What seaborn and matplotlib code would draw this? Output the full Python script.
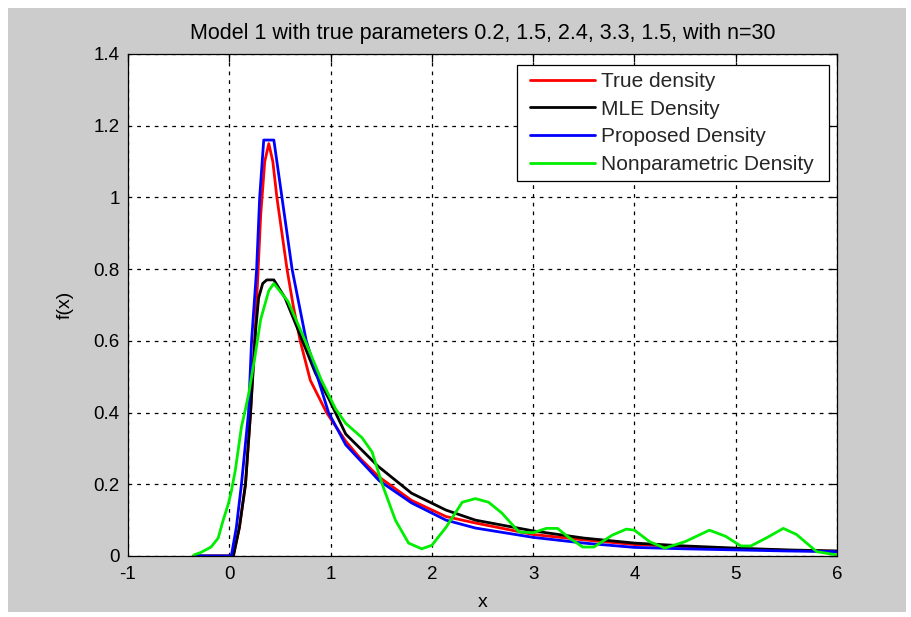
import numpy as np
import pandas as pd
import matplotlib
matplotlib.use("Agg")
import matplotlib.pyplot as plt
import seaborn as sns
from matplotlib.patches import Rectangle
from matplotlib.lines import Line2D

# ---------------- data ----------------
title = "Model 1 with true parameters 0.2, 1.5, 2.4, 3.3, 1.5, with n=30"
series_names = ["True density", "MLE Density", "Proposed Density", "Nonparametric Density"]
series_colors = ["#ff0000", "#000000", "#0000ff", "#00ee00"]

true_x = [-0.35, 0.04, 0.10, 0.16, 0.21, 0.26, 0.31, 0.35, 0.39, 0.43, 0.47, 0.52,
          0.57, 0.63, 0.70, 0.80, 0.96, 1.15, 1.30, 1.48, 1.80, 2.14, 2.43, 3.0,
          3.5, 4.0, 4.5, 5.0, 5.5, 6.0]
true_y = [0.0, 0.0, 0.08, 0.20, 0.40, 0.65, 0.95, 1.10, 1.15, 1.10, 1.00, 0.90,
          0.80, 0.70, 0.60, 0.49, 0.40, 0.32, 0.27, 0.22, 0.155, 0.11, 0.092, 0.06,
          0.045, 0.032, 0.026, 0.020, 0.016, 0.013]

mle_x = [-0.35, 0.04, 0.10, 0.16, 0.21, 0.26, 0.29, 0.33, 0.37, 0.44, 0.55, 0.68,
         0.85, 0.98, 1.15, 1.47, 1.80, 2.14, 2.43, 3.0, 3.5, 4.0, 4.5, 5.0, 5.5, 6.0]
mle_y = [0.0, 0.0, 0.08, 0.20, 0.40, 0.63, 0.72, 0.76, 0.77, 0.77, 0.72, 0.63,
         0.51, 0.44, 0.34, 0.25, 0.175, 0.128, 0.10, 0.07, 0.05, 0.036, 0.028,
         0.022, 0.017, 0.014]

prop_x = [-0.35, 0.02, 0.07, 0.12, 0.19, 0.22, 0.27, 0.30, 0.34, 0.44, 0.47, 0.52,
          0.62, 0.76, 0.98, 1.15, 1.48, 1.80, 2.14, 2.43, 3.0, 3.5, 4.0, 4.5, 5.0,
          5.5, 6.0]
prop_y = [0.0, 0.0, 0.08, 0.20, 0.40, 0.60, 0.80, 1.00, 1.16, 1.16, 1.10, 1.00,
          0.80, 0.60, 0.40, 0.31, 0.21, 0.148, 0.10, 0.078, 0.052, 0.036, 0.024,
          0.020, 0.017, 0.014, 0.012]

nonpar_x = [-0.35, -0.28, -0.18, -0.11, -0.06, -0.01, 0.02, 0.06, 0.09, 0.12, 0.16,
            0.19, 0.25, 0.31, 0.39, 0.44, 0.58, 0.75, 0.91, 1.05, 1.15, 1.31, 1.41,
            1.51, 1.64, 1.77, 1.90, 2.00, 2.14, 2.30, 2.43, 2.56, 2.69, 2.86, 3.00,
            3.13, 3.24, 3.36, 3.49, 3.60, 3.78, 3.92, 4.00, 4.15, 4.30, 4.50, 4.74,
            4.90, 5.05, 5.15, 5.30, 5.47, 5.60, 5.80, 6.00]
nonpar_y = [0.003, 0.01, 0.025, 0.05, 0.10, 0.145, 0.18, 0.24, 0.30, 0.36, 0.41,
            0.45, 0.55, 0.66, 0.74, 0.76, 0.71, 0.60, 0.49, 0.41, 0.37, 0.33, 0.29,
            0.20, 0.10, 0.036, 0.02, 0.03, 0.08, 0.15, 0.16, 0.15, 0.12, 0.067, 0.065,
            0.077, 0.077, 0.05, 0.025, 0.025, 0.058, 0.075, 0.072, 0.04, 0.022, 0.04,
            0.072, 0.055, 0.028, 0.028, 0.05, 0.077, 0.06, 0.012, 0.003]

x_ticks = [-1, 0, 1, 2, 3, 4, 5, 6]
y_ticks = [0, 0.2, 0.4, 0.6, 0.8, 1.0, 1.2, 1.4]
y_tick_labels = ["0", "0.2", "0.4", "0.6", "0.8", "1", "1.2", "1.4"]

# ---------------- build long table ----------------
frames = []
for name, xs, ys in zip(series_names,
                        [true_x, mle_x, prop_x, nonpar_x],
                        [true_y, mle_y, prop_y, nonpar_y]):
    frames.append(pd.DataFrame({"x": xs, "y": ys, "series": name}))
df = pd.concat(frames, ignore_index=True)

# ---------------- figure ----------------
sns.set_theme(style="white")
plt.rcParams["font.family"] = ["Liberation Sans", "DejaVu Sans"]

W, H = 911, 617
fig = plt.figure(figsize=(W / 100, H / 100), dpi=100, facecolor="white")
bg = Rectangle((8 / W, 1 - 612 / H), (906 - 8) / W, (612 - 8) / H,
               transform=fig.transFigure, facecolor="#cccccc",
               edgecolor="none", zorder=-10)
fig.patches.append(bg)

L, R, T, B = 128, 837, 54, 556
ax = fig.add_axes([L / W, 1 - B / H, (R - L) / W, (B - T) / H])
ax.set_facecolor("white")

sns.lineplot(data=df, x="x", y="y", hue="series", hue_order=series_names,
             palette=dict(zip(series_names, series_colors)), estimator=None,
             linewidth=2.0, ax=ax, legend=False)

ax.set_xlim(-1, 6)
ax.set_ylim(0, 1.4)
ax.set_xticks(x_ticks)
ax.set_xticklabels([str(t) for t in x_ticks])
ax.set_yticks(y_ticks)
ax.set_yticklabels(y_tick_labels)

ax.grid(True, color="black", linestyle=(0, (3, 4)), linewidth=0.9)
ax.set_axisbelow(True)
for s in ax.spines.values():
    s.set_color("black")
    s.set_linewidth(0.9)
ax.tick_params(direction="in", length=6, width=0.9, top=True, right=True,
               colors="black", labelsize=13.5)
ax.tick_params(axis="x", pad=7)
ax.tick_params(axis="y", pad=6)

ax.set_title(title, fontsize=15.5, pad=11, color="black")
ax.set_xlabel("x", fontsize=14, color="black", labelpad=8)
ax.set_ylabel("f(x)", fontsize=14, color="black", labelpad=14)

# legend box (pixel extents of the reference) + frameless legend inside it
def ax_frac(px, py):
    return ((px - L) / (R - L), (B - py) / (B - T))

bx0, by0 = ax_frac(517, 181)
bx1, by1 = ax_frac(829, 65)
ax.add_patch(Rectangle((bx0, by0), bx1 - bx0, by1 - by0, transform=ax.transAxes,
                       facecolor="white", edgecolor="black", linewidth=0.9,
                       zorder=4.5))
handles = [Line2D([0], [0], color=c, lw=2.0) for c in series_colors]
leg = ax.legend(handles, series_names, loc="center left",
                bbox_to_anchor=ax_frac(530, 123),
                borderaxespad=0, borderpad=0, frameon=False,
                fontsize=15, handlelength=3.1, labelspacing=0.42,
                handletextpad=0.3)
leg.set_zorder(5)

fig.savefig("out.png", dpi=100, facecolor=fig.get_facecolor())
